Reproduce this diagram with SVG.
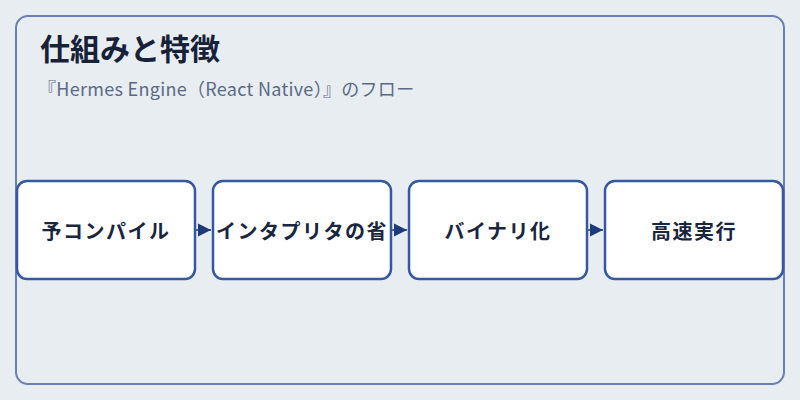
<svg xmlns="http://www.w3.org/2000/svg" width="800" height="400" viewBox="0 0 800 400">
<defs>
<style>
.node rect{fill:#ffffff;stroke:#3558a0;stroke-width:2.5}
.node text{font-family:"Noto Sans CJK JP","Noto Sans",sans-serif;font-weight:700;font-size:20px;fill:#1a2540;text-anchor:middle;letter-spacing:1.5px}
.conn line{stroke:#1e3a78;stroke-width:1.5}
</style>
<marker id="ah" viewBox="0 0 10 10" refX="10" refY="5" markerWidth="13" markerHeight="16" markerUnits="userSpaceOnUse" orient="auto">
<path d="M0,0 L10,5 L0,10 Z" fill="#1e3a78"/>
</marker>
</defs>
<rect width="800" height="400" fill="#e8edf2"/>
<rect x="16" y="16" width="768" height="368" rx="12" fill="#e8edf2" stroke="#6a80b0" stroke-width="2"/>
<text x="40" y="60" font-family="Noto Sans CJK JP,Noto Sans,sans-serif" font-weight="700" font-size="30" fill="#172138">仕組みと特徴</text>
<text x="38" y="96" font-family="Noto Sans CJK JP,Noto Sans,sans-serif" font-size="18" letter-spacing="0.3" fill="#5a6a85">『Hermes Engine（React Native）』のフロー</text>
<g class="conn">
<line x1="196" y1="230" x2="211" y2="230" marker-end="url(#ah)"/>
<line x1="392" y1="230" x2="407" y2="230" marker-end="url(#ah)"/>
<line x1="588" y1="230" x2="603" y2="230" marker-end="url(#ah)"/>
</g>
<g id="n1" class="node"><rect x="17" y="181" width="178" height="98" rx="10"/><text x="106" y="239">予コンパイル</text></g>
<g id="n2" class="node"><rect x="213" y="181" width="178" height="98" rx="10"/><text x="302" y="239">インタプリタの省</text></g>
<g id="n3" class="node"><rect x="409" y="181" width="178" height="98" rx="10"/><text x="498" y="239">バイナリ化</text></g>
<g id="n4" class="node"><rect x="605" y="181" width="178" height="98" rx="10"/><text x="694" y="239">高速実行</text></g>
</svg>
